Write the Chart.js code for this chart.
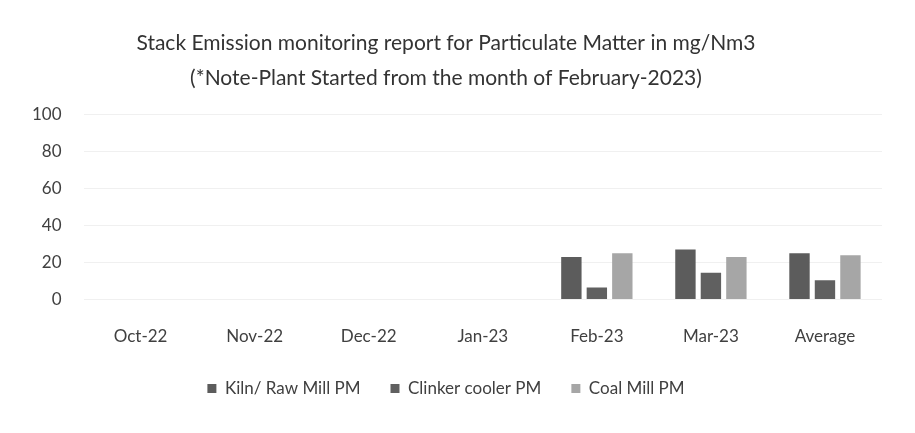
<!DOCTYPE html>
<html>
<head>
<meta charset="utf-8">
<script src="https://cdn.jsdelivr.net/npm/chart.js@4"></script>
<style>
  html, body { margin: 0; padding: 0; background: #ffffff; }
  #wrap { width: 915px; height: 433px; position: relative; }
</style>
</head>
<body>
<div id="wrap"><canvas id="pmChart"></canvas></div>
<script>
// Data (mg/Nm3)
const months = ['Oct-22', 'Nov-22', 'Dec-22', 'Jan-23', 'Feb-23', 'Mar-23', 'Average'];
const kilnRawMill = [null, null, null, null, 23, 27, 25];
const clinkerCooler = [null, null, null, null, 6.5, 14.5, 10.5];
const coalMill = [null, null, null, null, 25, 23, 24];
const yTicks = [0, 20, 40, 60, 80, 100];

const FONT = "Lato, 'Open Sans', sans-serif";

// pull the legend a bit closer to the x labels (wide item gap, small vertical gap)
const legendLift = {
    id: 'legendLift',
    afterLayout(chart) {
        chart.legend.top -= 16;
        chart.legend.bottom -= 16;
    }
};

const ctx = document.getElementById('pmChart').getContext('2d');
new Chart(ctx, {
    type: 'bar',
    data: {
        labels: months,
        datasets: [
            { label: 'Kiln/ Raw Mill PM', data: kilnRawMill, backgroundColor: '#5c5c5c' },
            { label: 'Clinker cooler PM', data: clinkerCooler, backgroundColor: '#606060' },
            { label: 'Coal Mill PM', data: coalMill, backgroundColor: '#a6a6a6' }
        ]
    },
    options: {
        responsive: true,
        maintainAspectRatio: false,
        animation: false,
        datasets: { bar: { barPercentage: 0.8, categoryPercentage: 0.67 } },
        layout: { padding: { left: 10, right: 33, top: 25, bottom: 10 } },
        plugins: {
            title: {
                display: true,
                text: ['Stack Emission monitoring report for Particulate Matter in mg/Nm3',
                       '(*Note-Plant Started from the month of February-2023)'],
                color: '#333333',
                font: { family: FONT, size: 21, weight: 'normal', lineHeight: 1.7 },
                padding: { top: 0, bottom: 18 }
            },
            legend: {
                position: 'bottom',
                labels: {
                    color: '#404040',
                    font: { family: FONT, size: 17 },
                    boxWidth: 9,
                    boxHeight: 9,
                    padding: 30
                }
            },
            tooltip: { enabled: false }
        },
        scales: {
            x: {
                grid: { display: false },
                border: { display: false },
                ticks: { color: '#404040', font: { family: FONT, size: 17 }, padding: 19 }
            },
            y: {
                min: 0,
                max: 100,
                afterBuildTicks: (axis) => { axis.ticks = yTicks.map(v => ({ value: v })); },
                grid: { color: '#f0f0f0', drawTicks: false },
                border: { display: false },
                ticks: { color: '#404040', font: { family: FONT, size: 17 }, padding: 22 }
            }
        }
    },
    plugins: [legendLift]
});
</script>
</body>
</html>
